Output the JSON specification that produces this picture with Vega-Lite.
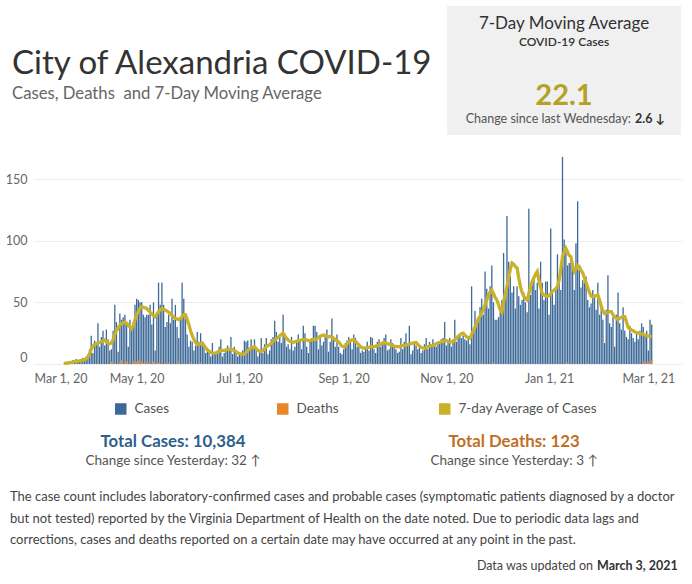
{
  "$schema": "https://vega.github.io/schema/vega-lite/v6.json",
  "padding": {"left": 5, "top": 6, "right": 4, "bottom": 4},
  "background": "white",
  "bounds": "flush",
  "spacing": 0,
  "config": {
    "font": "Lato",
    "view": {"stroke": null},
    "title": {"font": "Lato", "subtitleFont": "Lato"}
  },
  "datasets": {
    "daily": [
      {"d":"2020-03-19","c":1,"a":0.4},{"d":"2020-03-20","c":0,"a":0.6},{"d":"2020-03-21","c":2,"a":0.9},{"d":"2020-03-22","c":1,"a":1.0},{"d":"2020-03-23","c":2,"a":1.3},{"d":"2020-03-24","c":3,"a":1.6},{"d":"2020-03-25","c":1,"a":1.9},{"d":"2020-03-26","c":4,"a":2.1},{"d":"2020-03-27","c":3,"a":2.4},{"d":"2020-03-28","c":2,"a":2.6},{"d":"2020-03-29","c":4,"a":2.9},{"d":"2020-03-30","c":5,"a":3.2},{"d":"2020-03-31","c":3,"a":3.6},
      {"d":"2020-04-01","c":6,"a":4.0},{"d":"2020-04-02","c":8,"a":5.5},{"d":"2020-04-03","c":12,"a":8.0},{"d":"2020-04-04","c":23,"a":12.0},{"d":"2020-04-05","c":9,"a":14.5},{"d":"2020-04-06","c":19,"a":16.0},{"d":"2020-04-07","c":16,"a":16.5},{"d":"2020-04-08","c":33,"a":17.0,"x":1},{"d":"2020-04-09","c":14,"a":17.5},{"d":"2020-04-10","c":22,"a":18.0},{"d":"2020-04-11","c":27,"a":18.5},{"d":"2020-04-12","c":15,"a":19.5},{"d":"2020-04-13","c":28,"a":18.0},{"d":"2020-04-14","c":20,"a":17.0,"x":1},{"d":"2020-04-15","c":11,"a":16.5},{"d":"2020-04-16","c":12,"a":17.0,"x":2},{"d":"2020-04-17","c":27,"a":20.0},{"d":"2020-04-18","c":48,"a":24.0,"x":1},{"d":"2020-04-19","c":34,"a":27.0},{"d":"2020-04-20","c":10,"a":29.5},{"d":"2020-04-21","c":41,"a":31.5,"x":2},{"d":"2020-04-22","c":36,"a":33.0,"x":3},{"d":"2020-04-23","c":38,"a":33.5},{"d":"2020-04-24","c":40,"a":34.0,"x":1},{"d":"2020-04-25","c":33,"a":33.0,"x":2},{"d":"2020-04-26","c":14,"a":31.5},{"d":"2020-04-27","c":36,"a":30.0,"x":1},{"d":"2020-04-28","c":30,"a":28.5},{"d":"2020-04-29","c":34,"a":31.0,"x":2},{"d":"2020-04-30","c":48,"a":36.0,"x":1},
      {"d":"2020-05-01","c":53,"a":40.0,"x":2},{"d":"2020-05-02","c":52,"a":43.0,"x":3},{"d":"2020-05-03","c":50,"a":45.0,"x":1},{"d":"2020-05-04","c":50,"a":46.5,"x":2},{"d":"2020-05-05","c":40,"a":46.0,"x":1},{"d":"2020-05-06","c":38,"a":45.5},{"d":"2020-05-07","c":40,"a":45.0,"x":2},{"d":"2020-05-08","c":40,"a":43.5,"x":1},{"d":"2020-05-09","c":48,"a":42.0},{"d":"2020-05-10","c":32,"a":40.5,"x":1},{"d":"2020-05-11","c":50,"a":39.5,"x":2},{"d":"2020-05-12","c":11,"a":38.5},{"d":"2020-05-13","c":42,"a":40.5,"x":1},{"d":"2020-05-14","c":66,"a":42.5,"x":1},{"d":"2020-05-15","c":48,"a":44.0},{"d":"2020-05-16","c":66,"a":45.0,"x":2},{"d":"2020-05-17","c":48,"a":44.5},{"d":"2020-05-18","c":30,"a":43.5,"x":1},{"d":"2020-05-19","c":34,"a":43.0},{"d":"2020-05-20","c":40,"a":42.0,"x":1},{"d":"2020-05-21","c":33,"a":41.0},{"d":"2020-05-22","c":53,"a":39.5,"x":1},{"d":"2020-05-23","c":36,"a":38.0},{"d":"2020-05-24","c":48,"a":37.0},{"d":"2020-05-25","c":30,"a":36.5},{"d":"2020-05-26","c":21,"a":36.0,"x":2},{"d":"2020-05-27","c":38,"a":37.0},{"d":"2020-05-28","c":66,"a":38.5,"x":1},{"d":"2020-05-29","c":53,"a":40.0},{"d":"2020-05-30","c":40,"a":40.0},{"d":"2020-05-31","c":24,"a":36.0},
      {"d":"2020-06-01","c":14,"a":32.0},{"d":"2020-06-02","c":19,"a":27.0,"x":1},{"d":"2020-06-03","c":18,"a":23.0},{"d":"2020-06-04","c":11,"a":20.0},{"d":"2020-06-05","c":15,"a":17.5},{"d":"2020-06-06","c":26,"a":16.0},{"d":"2020-06-07","c":18,"a":16.0},{"d":"2020-06-08","c":25,"a":16.5,"x":1},{"d":"2020-06-09","c":17,"a":17.0},{"d":"2020-06-10","c":14,"a":15.0},{"d":"2020-06-11","c":9,"a":13.0},{"d":"2020-06-12","c":12,"a":11.5},{"d":"2020-06-13","c":10,"a":10.5},{"d":"2020-06-14","c":6,"a":9.5},{"d":"2020-06-15","c":17,"a":9.0},{"d":"2020-06-16","c":8,"a":8.7},{"d":"2020-06-17","c":9,"a":9.0},{"d":"2020-06-18","c":11,"a":9.5},{"d":"2020-06-19","c":14,"a":10.5},{"d":"2020-06-20","c":20,"a":11.0},{"d":"2020-06-21","c":6,"a":11.0},{"d":"2020-06-22","c":9,"a":11.0},{"d":"2020-06-23","c":12,"a":11.5},{"d":"2020-06-24","c":15,"a":12.0},{"d":"2020-06-25","c":11,"a":12.0},{"d":"2020-06-26","c":22,"a":12.0,"x":1},{"d":"2020-06-27","c":8,"a":11.5},{"d":"2020-06-28","c":14,"a":11.0},{"d":"2020-06-29","c":10,"a":10.0},{"d":"2020-06-30","c":6,"a":9.0},
      {"d":"2020-07-01","c":9,"a":8.5},{"d":"2020-07-02","c":7,"a":8.0},{"d":"2020-07-03","c":11,"a":7.8},{"d":"2020-07-04","c":19,"a":8.0},{"d":"2020-07-05","c":18,"a":9.5},{"d":"2020-07-06","c":19,"a":11.0},{"d":"2020-07-07","c":12,"a":12.0},{"d":"2020-07-08","c":20,"a":13.0},{"d":"2020-07-09","c":13,"a":13.5},{"d":"2020-07-10","c":20,"a":14.0},{"d":"2020-07-11","c":11,"a":12.5},{"d":"2020-07-12","c":6,"a":11.0},{"d":"2020-07-13","c":10,"a":10.5},{"d":"2020-07-14","c":21,"a":10.0},{"d":"2020-07-15","c":9,"a":11.0},{"d":"2020-07-16","c":16,"a":12.5},{"d":"2020-07-17","c":21,"a":14.0},{"d":"2020-07-18","c":8,"a":15.0},{"d":"2020-07-19","c":11,"a":15.5},{"d":"2020-07-20","c":20,"a":17.0},{"d":"2020-07-21","c":22,"a":18.5},{"d":"2020-07-22","c":35,"a":19.5},{"d":"2020-07-23","c":26,"a":20.5},{"d":"2020-07-24","c":18,"a":21.5},{"d":"2020-07-25","c":24,"a":23.0},{"d":"2020-07-26","c":17,"a":24.0},{"d":"2020-07-27","c":40,"a":25.0},{"d":"2020-07-28","c":24,"a":23.0},{"d":"2020-07-29","c":14,"a":21.0},{"d":"2020-07-30","c":16,"a":19.5},{"d":"2020-07-31","c":12,"a":18.5},
      {"d":"2020-08-01","c":22,"a":18.0},{"d":"2020-08-02","c":11,"a":17.5},{"d":"2020-08-03","c":14,"a":18.0},{"d":"2020-08-04","c":19,"a":18.5},{"d":"2020-08-05","c":24,"a":19.0},{"d":"2020-08-06","c":20,"a":19.0},{"d":"2020-08-07","c":12,"a":19.5},{"d":"2020-08-08","c":31,"a":20.0},{"d":"2020-08-09","c":25,"a":20.0},{"d":"2020-08-10","c":14,"a":19.5},{"d":"2020-08-11","c":9,"a":19.0},{"d":"2020-08-12","c":18,"a":19.0},{"d":"2020-08-13","c":21,"a":19.5},{"d":"2020-08-14","c":31,"a":20.0},{"d":"2020-08-15","c":31,"a":19.5},{"d":"2020-08-16","c":26,"a":20.5},{"d":"2020-08-17","c":12,"a":21.5},{"d":"2020-08-18","c":22,"a":22.5},{"d":"2020-08-19","c":15,"a":23.0},{"d":"2020-08-20","c":18,"a":23.5},{"d":"2020-08-21","c":24,"a":23.0},{"d":"2020-08-22","c":28,"a":22.5},{"d":"2020-08-23","c":10,"a":22.0},{"d":"2020-08-24","c":18,"a":22.5},{"d":"2020-08-25","c":37,"a":22.0},{"d":"2020-08-26","c":21,"a":21.0},{"d":"2020-08-27","c":14,"a":19.5},{"d":"2020-08-28","c":24,"a":19.0},{"d":"2020-08-29","c":14,"a":18.0},{"d":"2020-08-30","c":9,"a":16.0},{"d":"2020-08-31","c":8,"a":14.5,"x":1},
      {"d":"2020-09-01","c":12,"a":14.0},{"d":"2020-09-02","c":17,"a":14.5},{"d":"2020-09-03","c":19,"a":16.5},{"d":"2020-09-04","c":22,"a":18.0},{"d":"2020-09-05","c":18,"a":19.0},{"d":"2020-09-06","c":12,"a":19.5},{"d":"2020-09-07","c":24,"a":19.5},{"d":"2020-09-08","c":21,"a":18.5},{"d":"2020-09-09","c":14,"a":17.0},{"d":"2020-09-10","c":16,"a":15.5},{"d":"2020-09-11","c":9,"a":14.0},{"d":"2020-09-12","c":11,"a":13.2},{"d":"2020-09-13","c":10,"a":12.8},{"d":"2020-09-14","c":13,"a":13.0},{"d":"2020-09-15","c":18,"a":13.2},{"d":"2020-09-16","c":11,"a":13.5},{"d":"2020-09-17","c":22,"a":14.0,"x":1},{"d":"2020-09-18","c":21,"a":14.0},{"d":"2020-09-19","c":12,"a":14.0},{"d":"2020-09-20","c":9,"a":14.5},{"d":"2020-09-21","c":18,"a":15.0},{"d":"2020-09-22","c":20,"a":15.5},{"d":"2020-09-23","c":14,"a":16.0},{"d":"2020-09-24","c":18,"a":17.0},{"d":"2020-09-25","c":21,"a":17.4},{"d":"2020-09-26","c":24,"a":17.0},{"d":"2020-09-27","c":11,"a":16.5},{"d":"2020-09-28","c":12,"a":16.0},{"d":"2020-09-29","c":20,"a":15.5},{"d":"2020-09-30","c":17,"a":15.0},
      {"d":"2020-10-01","c":14,"a":14.5},{"d":"2020-10-02","c":12,"a":14.2},{"d":"2020-10-03","c":9,"a":14.0},{"d":"2020-10-04","c":10,"a":14.0},{"d":"2020-10-05","c":21,"a":14.5},{"d":"2020-10-06","c":12,"a":15.0},{"d":"2020-10-07","c":18,"a":15.2},{"d":"2020-10-08","c":25,"a":15.5},{"d":"2020-10-09","c":16,"a":15.5},{"d":"2020-10-10","c":31,"a":16.0},{"d":"2020-10-11","c":8,"a":16.5},{"d":"2020-10-12","c":11,"a":17.0},{"d":"2020-10-13","c":18,"a":17.2},{"d":"2020-10-14","c":15,"a":17.4},{"d":"2020-10-15","c":12,"a":16.0},{"d":"2020-10-16","c":14,"a":14.5},{"d":"2020-10-17","c":9,"a":13.5},{"d":"2020-10-18","c":11,"a":13.0},{"d":"2020-10-19","c":16,"a":12.8},{"d":"2020-10-20","c":21,"a":13.5},{"d":"2020-10-21","c":12,"a":14.0},{"d":"2020-10-22","c":18,"a":14.5},{"d":"2020-10-23","c":15,"a":15.0},{"d":"2020-10-24","c":20,"a":15.2},{"d":"2020-10-25","c":16,"a":15.5},{"d":"2020-10-26","c":14,"a":16.5},{"d":"2020-10-27","c":18,"a":17.0},{"d":"2020-10-28","c":17,"a":17.5},{"d":"2020-10-29","c":20,"a":18.0},{"d":"2020-10-30","c":21,"a":18.5},{"d":"2020-10-31","c":34,"a":19.0},
      {"d":"2020-11-01","c":15,"a":19.0},{"d":"2020-11-02","c":18,"a":18.5},{"d":"2020-11-03","c":21,"a":18.0},{"d":"2020-11-04","c":14,"a":18.0},{"d":"2020-11-05","c":20,"a":18.0},{"d":"2020-11-06","c":36,"a":19.5},{"d":"2020-11-07","c":18,"a":21.0},{"d":"2020-11-08","c":22,"a":22.5},{"d":"2020-11-09","c":24,"a":23.5},{"d":"2020-11-10","c":21,"a":24.5},{"d":"2020-11-11","c":23,"a":25.0},{"d":"2020-11-12","c":20,"a":23.5},{"d":"2020-11-13","c":19,"a":22.0},{"d":"2020-11-14","c":22,"a":21.5},{"d":"2020-11-15","c":16,"a":21.0},{"d":"2020-11-16","c":63,"a":24.0},{"d":"2020-11-17","c":28,"a":27.0},{"d":"2020-11-18","c":43,"a":30.0},{"d":"2020-11-19","c":33,"a":33.0},{"d":"2020-11-20","c":38,"a":36.5},{"d":"2020-11-21","c":46,"a":39.0},{"d":"2020-11-22","c":53,"a":41.5,"x":1},{"d":"2020-11-23","c":40,"a":44.0},{"d":"2020-11-24","c":75,"a":48.0},{"d":"2020-11-25","c":61,"a":52.0},{"d":"2020-11-26","c":45,"a":56.0},{"d":"2020-11-27","c":63,"a":58.5},{"d":"2020-11-28","c":80,"a":60.0},{"d":"2020-11-29","c":50,"a":57.0,"x":1},{"d":"2020-11-30","c":36,"a":54.0},
      {"d":"2020-12-01","c":36,"a":52.0},{"d":"2020-12-02","c":38,"a":48.0},{"d":"2020-12-03","c":46,"a":44.0},{"d":"2020-12-04","c":52,"a":42.0},{"d":"2020-12-05","c":90,"a":50.0},{"d":"2020-12-06","c":58,"a":57.0},{"d":"2020-12-07","c":120,"a":63.0},{"d":"2020-12-08","c":83,"a":70.0},{"d":"2020-12-09","c":71,"a":77.0},{"d":"2020-12-10","c":58,"a":82.0},{"d":"2020-12-11","c":63,"a":81.0},{"d":"2020-12-12","c":45,"a":79.0},{"d":"2020-12-13","c":63,"a":78.0},{"d":"2020-12-14","c":55,"a":70.0},{"d":"2020-12-15","c":48,"a":63.0},{"d":"2020-12-16","c":52,"a":58.0},{"d":"2020-12-17","c":58,"a":55.0,"x":1},{"d":"2020-12-18","c":50,"a":53.0},{"d":"2020-12-19","c":42,"a":52.0},{"d":"2020-12-20","c":126,"a":57.0},{"d":"2020-12-21","c":56,"a":63.0},{"d":"2020-12-22","c":64,"a":67.0},{"d":"2020-12-23","c":71,"a":70.0},{"d":"2020-12-24","c":60,"a":73.0},{"d":"2020-12-25","c":66,"a":75.0},{"d":"2020-12-26","c":45,"a":68.0},{"d":"2020-12-27","c":83,"a":62.0},{"d":"2020-12-28","c":66,"a":57.0},{"d":"2020-12-29","c":52,"a":56.0},{"d":"2020-12-30","c":67,"a":55.5},{"d":"2020-12-31","c":67,"a":55.0},
      {"d":"2021-01-01","c":40,"a":55.5},{"d":"2021-01-02","c":110,"a":57.0},{"d":"2021-01-03","c":58,"a":59.0},{"d":"2021-01-04","c":48,"a":60.0},{"d":"2021-01-05","c":62,"a":61.0},{"d":"2021-01-06","c":89,"a":63.0},{"d":"2021-01-07","c":71,"a":68.0},{"d":"2021-01-08","c":60,"a":77.0},{"d":"2021-01-09","c":168,"a":87.0},{"d":"2021-01-10","c":101,"a":91.0,"x":1},{"d":"2021-01-11","c":95,"a":94.0},{"d":"2021-01-12","c":80,"a":91.0,"x":1},{"d":"2021-01-13","c":82,"a":88.0},{"d":"2021-01-14","c":87,"a":87.0},{"d":"2021-01-15","c":76,"a":80.0},{"d":"2021-01-16","c":60,"a":75.0},{"d":"2021-01-17","c":98,"a":77.0},{"d":"2021-01-18","c":132,"a":80.0},{"d":"2021-01-19","c":76,"a":79.0},{"d":"2021-01-20","c":62,"a":76.0},{"d":"2021-01-21","c":68,"a":74.0},{"d":"2021-01-22","c":66,"a":70.0},{"d":"2021-01-23","c":71,"a":66.0},{"d":"2021-01-24","c":52,"a":62.0,"x":1},{"d":"2021-01-25","c":46,"a":58.0},{"d":"2021-01-26","c":49,"a":55.0},{"d":"2021-01-27","c":60,"a":54.5},{"d":"2021-01-28","c":55,"a":55.0},{"d":"2021-01-29","c":44,"a":55.5},{"d":"2021-01-30","c":66,"a":56.0},{"d":"2021-01-31","c":40,"a":52.0},
      {"d":"2021-02-01","c":49,"a":47.0},{"d":"2021-02-02","c":36,"a":43.0},{"d":"2021-02-03","c":17,"a":41.0},{"d":"2021-02-04","c":44,"a":41.5},{"d":"2021-02-05","c":72,"a":42.0},{"d":"2021-02-06","c":33,"a":42.5},{"d":"2021-02-07","c":30,"a":42.5},{"d":"2021-02-08","c":38,"a":40.0},{"d":"2021-02-09","c":14,"a":38.0},{"d":"2021-02-10","c":40,"a":37.0},{"d":"2021-02-11","c":58,"a":36.0},{"d":"2021-02-12","c":33,"a":37.0},{"d":"2021-02-13","c":28,"a":38.0},{"d":"2021-02-14","c":46,"a":38.5},{"d":"2021-02-15","c":27,"a":38.5},{"d":"2021-02-16","c":22,"a":34.0},{"d":"2021-02-17","c":20,"a":30.0},{"d":"2021-02-18","c":31,"a":28.5},{"d":"2021-02-19","c":25,"a":27.6},{"d":"2021-02-20","c":21,"a":27.0},{"d":"2021-02-21","c":18,"a":26.0},{"d":"2021-02-22","c":25,"a":25.5},{"d":"2021-02-23","c":20,"a":25.0},{"d":"2021-02-24","c":27,"a":24.8},{"d":"2021-02-25","c":33,"a":24.4},{"d":"2021-02-26","c":30,"a":24.0,"x":2},{"d":"2021-02-27","c":24,"a":23.5},{"d":"2021-02-28","c":27,"a":23.0,"x":1},
      {"d":"2021-03-01","c":11,"a":22.8,"x":2},{"d":"2021-03-02","c":36,"a":22.4,"x":1},{"d":"2021-03-03","c":32,"a":22.1,"x":3}
    ]
  },
  "vconcat": [
    {
      "bounds": "flush",
      "spacing": 10,
      "hconcat": [
        {
          "width": 403,
          "height": 36,
          "data": {"values": []},
          "mark": "text",
          "encoding": {},
          "title": {
            "text": "City of Alexandria COVID-19",
            "subtitle": "Cases, Deaths\u00a0 and 7-Day Moving Average",
            "orient": "bottom",
            "anchor": "start",
            "frame": "group",
            "dx": -22,
            "offset": 6,
            "fontSize": 33,
            "fontWeight": "normal",
            "color": "#333333",
            "subtitleFontSize": 16.7,
            "subtitleColor": "#666666",
            "subtitlePadding": 5
          }
        },
        {
          "width": 234,
          "height": 129,
          "view": {"fill": "#f0f0f0", "stroke": null},
          "layer": [
            {
              "data": {"values": [{"t": "7-Day Moving Average"}]},
              "mark": {"type": "text", "fontSize": 17, "color": "#333333", "baseline": "middle", "dy": -46.5},
              "encoding": {"text": {"field": "t"}}
            },
            {
              "data": {"values": [{"t": "COVID-19 Cases"}]},
              "mark": {"type": "text", "fontSize": 12, "fontWeight": 600, "color": "#333333", "baseline": "middle", "dy": -28.5},
              "encoding": {"text": {"field": "t"}}
            },
            {
              "data": {"values": [{"t": "22.1"}]},
              "mark": {"type": "text", "fontSize": 29, "fontWeight": "bold", "color": "#b5a124", "baseline": "middle", "dy": 25},
              "encoding": {"text": {"field": "t"}}
            },
            {
              "data": {"values": [{"t": "Change since last Wednesday:"}]},
              "mark": {"type": "text", "fontSize": 12.5, "color": "#555555", "baseline": "middle", "align": "right", "dx": 67, "dy": 48},
              "encoding": {"text": {"field": "t"}}
            },
            {
              "data": {"values": [{"t": "2.6 ↓"}]},
              "mark": {"type": "text", "fontSize": 12.5, "fontWeight": "bold", "color": "#333333", "baseline": "middle", "align": "left", "dx": 71, "dy": 48},
              "encoding": {"text": {"field": "t"}}
            }
          ]
        }
      ]
    },
    {"width": 648, "height": 146, "data": {"values": []}, "mark": "text", "encoding": {}},
    {
      "width": 648,
      "height": 212,
      "data": {"name": "daily"},
      "encoding": {
        "x": {
          "field": "d",
          "type": "temporal",
          "title": null,
          "scale": {"type": "utc", "padding": 0, "domain": [{"year": 2020, "month": 3, "date": 1, "utc": true}, {"year": 2021, "month": 3, "date": 21, "utc": true}]},
          "axis": {
            "values": [
              {"year": 2020, "month": 3, "date": 1, "utc": true},
              {"year": 2020, "month": 5, "date": 1, "utc": true},
              {"year": 2020, "month": 7, "date": 1, "utc": true},
              {"year": 2020, "month": 9, "date": 1, "utc": true},
              {"year": 2020, "month": 11, "date": 1, "utc": true},
              {"year": 2021, "month": 1, "date": 1, "utc": true},
              {"year": 2021, "month": 3, "date": 1, "utc": true}
            ],
            "labelExpr": "utcFormat(datum.value, '%b %-d, %y')",
            "labelFlush": true, "domain": false, "ticks": false, "grid": false, "labelColor": "#666666", "labelFontSize": 12.5, "labelPadding": 8
          }
        }
      },
      "layer": [
        {
          "mark": {"type": "bar", "width": 1.3},
          "encoding": {
            "y": {"field": "c", "type": "quantitative", "title": null, "scale": {"domain": [0, 172], "nice": false},
              "axis": {"values": [0, 50, 100, 150], "domain": false, "ticks": false, "grid": true, "gridColor": "#ececec", "labelColor": "#666666", "labelFontSize": 12.5, "labelPadding": 7, "labelFlush": true}},
            "color": {
              "datum": "Cases",
              "type": "nominal",
              "scale": {"domain": ["Cases", "Deaths", "7-day Average of Cases"], "range": ["#3d6997", "#e8862a", "#c9b12a"]},
              "legend": {"title": null, "orient": "none", "legendX": 80, "legendY": 396, "direction": "horizontal", "columns": 3, "gridAlign": "all", "symbolType": "square", "symbolSize": 100, "labelFontSize": 13.5, "labelColor": "#555555", "labelOffset": 7, "columnPadding": 0}
            }
          }
        },
        {
          "transform": [{"filter": "datum.x > 0"}],
          "mark": {"type": "bar", "width": 1.3},
          "encoding": {
            "y": {"field": "x", "type": "quantitative"},
            "color": {"datum": "Deaths", "type": "nominal"}
          }
        },
        {
          "mark": {"type": "line", "strokeWidth": 3.3},
          "encoding": {
            "y": {"field": "a", "type": "quantitative"},
            "color": {"datum": "7-day Average of Cases", "type": "nominal"}
          }
        }
      ]
    },
    {"width": 648, "height": 17, "data": {"values": []}, "mark": "text", "encoding": {}},
    {
      "bounds": "flush",
      "spacing": 10,
      "hconcat": [
        {
          "width": 278,
          "height": 45,
          "data": {"values": []},
          "mark": "text",
          "encoding": {},
          "title": {
            "text": "Total Cases: 10,384",
            "subtitle": "Change since Yesterday: 32 ↑",
            "orient": "bottom",
            "anchor": "middle",
            "frame": "group",
            "offset": 8,
            "fontSize": 16.8,
            "fontWeight": "bold",
            "color": "#2e5f8d",
            "subtitleFontSize": 13.5,
            "subtitleColor": "#555555",
            "subtitlePadding": 3
          }
        },
        {
          "width": 384,
          "height": 45,
          "data": {"values": []},
          "mark": "text",
          "encoding": {},
          "title": {
            "text": "Total Deaths: 123",
            "subtitle": "Change since Yesterday: 3 ↑",
            "orient": "bottom",
            "anchor": "middle",
            "frame": "group",
            "offset": 8,
            "fontSize": 16.8,
            "fontWeight": "bold",
            "color": "#c06f26",
            "subtitleFontSize": 13.5,
            "subtitleColor": "#555555",
            "subtitlePadding": 3
          }
        }
      ]
    },
    {"width": 648, "height": 62, "data": {"values": []}, "mark": "text", "encoding": {}},
    {
      "width": 648,
      "height": 40,
      "data": {"values": []},
      "mark": "text",
      "encoding": {},
      "title": {
        "text": [
          "The case count includes laboratory-confirmed cases and probable cases (symptomatic patients diagnosed by a doctor",
          "but not tested) reported by the Virginia Department of Health on the date noted. Due to periodic data lags and",
          "corrections, cases and deaths reported on a certain date may have occurred at any point in the past."
        ],
        "orient": "bottom",
        "anchor": "start",
        "frame": "group",
        "dx": -24,
        "offset": 8,
        "fontSize": 13,
        "fontWeight": "normal",
        "color": "#444444",
        "lineHeight": 21.5
      }
    },
    {"width": 648, "height": 17, "data": {"values": []}, "mark": "text", "encoding": {}},
    {
      "bounds": "flush",
      "spacing": 4,
      "hconcat": [
        {
          "width": 559,
          "height": 55,
          "data": {"values": []},
          "mark": "text",
          "encoding": {},
          "title": {"text": "Data was updated on", "orient": "bottom", "anchor": "end", "frame": "group", "offset": 5, "fontSize": 12.5, "fontWeight": "normal", "color": "#444444"}
        },
        {
          "width": 86,
          "height": 55,
          "data": {"values": []},
          "mark": "text",
          "encoding": {},
          "title": {"text": "March 3, 2021", "orient": "bottom", "anchor": "start", "frame": "group", "offset": 5, "fontSize": 12.5, "fontWeight": "bold", "color": "#333333"}
        }
      ]
    }
  ]
}
